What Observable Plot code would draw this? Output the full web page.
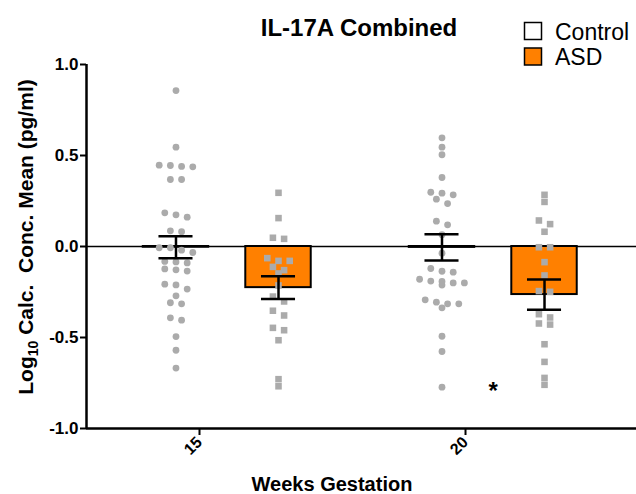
<!DOCTYPE html>
<html>
<head>
<meta charset="utf-8">
<script src="https://cdn.jsdelivr.net/npm/d3@7"></script>
<script src="https://cdn.jsdelivr.net/npm/@observablehq/plot@0.6"></script>
<style>
  body { margin: 0; background: #fff; }
  #chart { width: 636px; height: 494px; }
</style>
</head>
<body>
<div id="chart"></div>
<script>
// ---- data ----
const weeks = [15, 20];
const groups = ["Control", "ASD"];
const groupFill = ["#ffffff", "#ff8000"];
const groupSymbol = ["circle", "square"];

// individual log10 values
const control15 = [0.857, 0.546, 0.447, 0.445, 0.44, 0.438, 0.368, 0.368, 0.185, 0.174, 0.161,
  0.086, 0.081, -0.007, -0.007, -0.02, -0.033, -0.082, -0.085, -0.09, -0.123, -0.128, -0.135,
  -0.207, -0.211, -0.234, -0.271, -0.309, -0.315, -0.392, -0.405, -0.495, -0.57, -0.668];
const asd15 = [0.295, 0.156, 0.048, 0.042, -0.064, -0.079, -0.079, -0.112, -0.13, -0.148,
  -0.214, -0.275, -0.302, -0.353, -0.379, -0.447, -0.46, -0.515, -0.729, -0.768];
const control20 = [0.597, 0.546, 0.504, 0.379, 0.298, 0.293, 0.284, 0.26, 0.236, 0.139, 0.119,
  0.065, -0.037, -0.121, -0.136, -0.141, -0.18, -0.19, -0.192, -0.2, -0.2, -0.212,
  -0.293, -0.306, -0.315, -0.315, -0.337, -0.493, -0.577, -0.773];
const asd20 = [0.284, 0.245, 0.143, 0.123, 0.081, -0.004, -0.004, -0.086, -0.159, -0.245, -0.249,
  -0.372, -0.39, -0.423, -0.429, -0.537, -0.634, -0.722, -0.76];

// bar means and SEM per week (15, 20)
const meanControl = [-0.004, -0.005];
const semControl = [0.061, 0.072];
const meanASD = [-0.226, -0.264];
const semASD = [0.063, 0.083];

const yTicks = [-1.0, -0.5, 0.0, 0.5, 1.0];
const xTicks = [15, 20];
const sigWeeks = [20];
const sigLabels = ["*"];
const sigY = [-0.745];

const titleText = "IL-17A Combined";
const xLabel = "Weeks Gestation";

// ---- layout helpers ----
const xDomain = [12.876, 23.214];
const pxPerWeek = 550 / (xDomain[1] - xDomain[0]);
const groupOffset = {Control: -0.442, ASD: 1.485};
const barHalf = 0.615, capHalf = 0.32;
const colStep = 11.2 / pxPerWeek;

function swarm(values, tol) {
  const sorted = values.map((v, i) => ({v, i})).sort((a, b) => b.v - a.v);
  const out = new Array(values.length);
  let row = [];
  const flush = () => {
    const n = row.length;
    row.forEach((p, k) => out[p.i] = (k - (n - 1) / 2) * colStep);
    row = [];
  };
  for (const p of sorted) {
    if (row.length && row[0].v - p.v > tol) flush();
    row.push(p);
  }
  flush();
  return out;
}

const series = [
  {week: weeks[0], group: groups[0], values: control15},
  {week: weeks[0], group: groups[1], values: asd15},
  {week: weeks[1], group: groups[0], values: control20},
  {week: weeks[1], group: groups[1], values: asd20}
];
const points = series.flatMap(s => {
  const off = swarm(s.values, 0.03);
  return s.values.map((v, i) => ({x: s.week + groupOffset[s.group] + off[i], y: v, group: s.group}));
});
const bars = weeks.flatMap((w, i) => [
  {week: w, group: groups[0], mean: meanControl[i], sem: semControl[i]},
  {week: w, group: groups[1], mean: meanASD[i], sem: semASD[i]}
]).map(d => ({...d, pos: d.week + groupOffset[d.group]}));
const sig = sigWeeks.map((w, i) => ({x: w + (groupOffset.Control + groupOffset.ASD) / 2, y: sigY[i], label: sigLabels[i]}));

const fillOf = g => groupFill[groups.indexOf(g)];
const font = "'Liberation Sans', Arial, Helvetica, sans-serif";
const ptColor = "#ababab";

const plot = Plot.plot({
  width: 636,
  height: 494,
  marginLeft: 86,
  marginRight: 0,
  marginTop: 64,
  marginBottom: 66,
  style: {fontFamily: font, background: "#fff", overflow: "visible"},
  x: {domain: xDomain, label: null},
  y: {domain: [-1, 1], label: null},
  marks: [
    Plot.ruleY([0], {stroke: "black", strokeWidth: 1.6}),
    Plot.rectY(bars, {
      x1: d => d.pos - barHalf, x2: d => d.pos + barHalf,
      y1: 0, y2: "mean",
      fill: d => fillOf(d.group), stroke: "black", strokeWidth: 2
    }),
    Plot.dot(points.filter(d => d.group === groups[0]), {x: "x", y: "y", r: 3.4, fill: ptColor, symbol: groupSymbol[0]}),
    Plot.dot(points.filter(d => d.group === groups[1]), {x: "x", y: "y", r: 3.7, fill: ptColor, symbol: groupSymbol[1]}),
    Plot.ruleX(bars, {x: "pos", y1: d => d.mean - d.sem, y2: d => d.mean + d.sem, stroke: "black", strokeWidth: 2.5}),
    Plot.ruleY(bars, {y: d => d.mean + d.sem, x1: d => d.pos - capHalf, x2: d => d.pos + capHalf, stroke: "black", strokeWidth: 2.5}),
    Plot.ruleY(bars, {y: d => d.mean - d.sem, x1: d => d.pos - capHalf, x2: d => d.pos + capHalf, stroke: "black", strokeWidth: 2.5}),
    Plot.text(sig, {x: "x", y: "y", text: "label", fontSize: 24, fontWeight: "bold", lineAnchor: "top", fill: "black"}),
    Plot.ruleX([xDomain[0]], {y1: -1, y2: 1, stroke: "black", strokeWidth: 2.5}),
    Plot.ruleY([-1], {stroke: "black", strokeWidth: 2.5}),
    Plot.axisY(yTicks, {tickFormat: d => d.toFixed(1), tickSize: 6, tickPadding: 2, fontSize: 17, fontWeight: "bold", strokeWidth: 2, label: null}),
    Plot.axisX(xTicks, {tickFormat: d => String(d), tickSize: 7, tickPadding: 4, tickRotate: -45, fontSize: 16, fontWeight: "bold", strokeWidth: 2, label: null})
  ]
});

document.getElementById("chart").appendChild(plot);

// ---- title, axis titles and legend as SVG text ----
const svg = d3.select(plot);
svg.append("text")
  .attr("x", 359).attr("y", 36)
  .attr("text-anchor", "middle")
  .style("font-family", font).style("font-size", "24px").style("font-weight", "bold")
  .text(titleText);

svg.append("text")
  .attr("x", 332).attr("y", 491)
  .attr("text-anchor", "middle")
  .style("font-family", font).style("font-size", "20px").style("font-weight", "bold")
  .text(xLabel);

const yl = svg.append("text")
  .attr("transform", "translate(33,237) rotate(-90)")
  .attr("text-anchor", "middle")
  .style("font-family", font).style("font-size", "21px").style("font-weight", "bold")
  .style("white-space", "pre");
yl.append("tspan").text("Log");
yl.append("tspan").attr("dy", 5).style("font-size", "14px").text("10");
yl.append("tspan").attr("dy", -5).text(" Calc.  Conc. Mean (pg/ml)");

const leg = svg.append("g");
groups.forEach((g, i) => {
  leg.append("rect")
    .attr("x", 524.5).attr("y", 22.5 + i * 25.5)
    .attr("width", 17).attr("height", 17)
    .attr("fill", groupFill[i]).attr("stroke", "black").attr("stroke-width", 1.5);
  leg.append("text")
    .attr("x", 555).attr("y", 39.5 + i * 25.5)
    .attr("text-anchor", "start")
    .style("font-family", font).style("font-size", "23px")
    .text(g);
});
</script>
</body>
</html>
